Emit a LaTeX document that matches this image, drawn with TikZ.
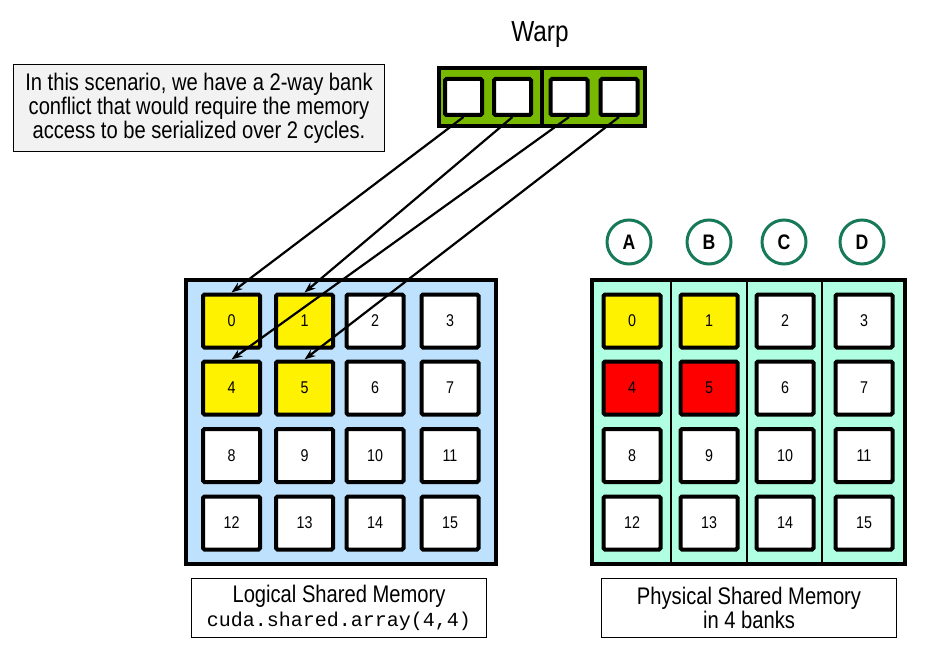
\documentclass[tikz,border=0pt]{standalone}
\usepackage{fontspec}
\setmainfont{Liberation Sans}[FakeStretch=0.84]
\setmonofont{Liberation Mono}
\usetikzlibrary{arrows.meta}

\definecolor{warpgreen}{RGB}{118,185,0}
\definecolor{logicblue}{RGB}{190,225,254}
\definecolor{bankmint}{RGB}{176,255,226}
\definecolor{bankring}{RGB}{22,122,88}
\definecolor{notegray}{RGB}{242,242,242}

\begin{document}
\begin{tikzpicture}[x=1pt, y=-1pt,
		cell/.style={draw, line width=4pt, rounded corners=1.5pt, minimum width=57pt, minimum height=53pt, fill=white, inner sep=0pt, font=\fontsize{17}{17}\selectfont},
		lane/.style={draw, line width=4pt, rounded corners=1.5pt, minimum width=37pt, minimum height=36pt, fill=white, inner sep=0pt},
		bank/.style={draw=bankring, line width=3pt, circle, minimum size=44pt, fill=white, inner sep=0pt, font=\bfseries\fontsize{21}{21}\selectfont},
		membox/.style={draw, line width=1pt, minimum width=295pt, minimum height=59pt, align=center, font=\fontsize{24}{24}\selectfont},
		access/.style={line width=2.2pt, -{Stealth[length=11pt, width=8pt]}}]
			\useasboundingbox (0, 0) rectangle (944, 655);

			% warp
			\draw (540, 35) 	node[font=\fontsize{29}{29}\selectfont] 	(warplabel) 	{Warp};
			\draw (542, 97) 	node[draw, line width=3.5pt, fill=warpgreen, minimum width=206pt, minimum height=58pt] 	(warp) 	{};
			\draw[line width=3.5pt] (warp.north) -- (warp.south);
			\draw (463.5, 97) 	node[lane] 	(w1) 	{};
			\draw (512.5, 97) 	node[lane] 	(w2) 	{};
			\draw (569, 97) 	node[lane] 	(w3) 	{};
			\draw (619, 97) 	node[lane] 	(w4) 	{};

			\draw (199, 108) 	node[draw, line width=1pt, fill=notegray, minimum width=371pt, minimum height=87pt, align=center, font=\fontsize{24}{24}\selectfont] 	(note) 	{In this scenario, we have a 2-way bank\\conflict that would require the memory\\access to be serialized over 2 cycles.};

			% logical shared memory
			\draw (341, 422) 	node[draw, line width=4pt, fill=logicblue, minimum width=310pt, minimum height=284pt] 	(logical) 	{};
			\draw (231.5, 321) 	node[cell, fill=yellow] 	(l0) 	{0};
			\draw (304.5, 321) 	node[cell, fill=yellow] 	(l1) 	{1};
			\draw (375, 321) 	node[cell] 	(l2) 	{2};
			\draw (450, 321) 	node[cell] 	(l3) 	{3};
			\draw (231.5, 388) 	node[cell, fill=yellow] 	(l4) 	{4};
			\draw (304.5, 388) 	node[cell, fill=yellow] 	(l5) 	{5};
			\draw (375, 388) 	node[cell] 	(l6) 	{6};
			\draw (450, 388) 	node[cell] 	(l7) 	{7};
			\draw (231.5, 455.5) 	node[cell] 	(l8) 	{8};
			\draw (304.5, 455.5) 	node[cell] 	(l9) 	{9};
			\draw (375, 455.5) 	node[cell] 	(l10) 	{10};
			\draw (450, 455.5) 	node[cell] 	(l11) 	{11};
			\draw (231.5, 523) 	node[cell] 	(l12) 	{12};
			\draw (304.5, 523) 	node[cell] 	(l13) 	{13};
			\draw (375, 523) 	node[cell] 	(l14) 	{14};
			\draw (450, 523) 	node[cell] 	(l15) 	{15};
			\draw (339, 608) 	node[membox] 	(logicaltag) 	{Logical Shared Memory\\{\ttfamily\fontsize{20}{24}\selectfont cuda.shared.array(4,4)}};

			% physical shared memory, 4 banks
			\draw (629, 242) 	node[bank] 	(bankA) 	{A};
			\draw (709, 242) 	node[bank] 	(bankB) 	{B};
			\draw (784, 242) 	node[bank] 	(bankC) 	{C};
			\draw (862, 242) 	node[bank] 	(bankD) 	{D};
			\draw (748.5, 422) 	node[draw, line width=4pt, fill=bankmint, minimum width=313pt, minimum height=284pt] 	(physical) 	{};
			\draw[line width=1.5pt] (671, 280) -- (671, 566);
			\draw[line width=1.5pt] (747, 280) -- (747, 566);
			\draw[line width=1.5pt] (822, 280) -- (822, 566);
			\draw (632, 321) 	node[cell, fill=yellow] 	(p0) 	{0};
			\draw (709, 321) 	node[cell, fill=yellow] 	(p1) 	{1};
			\draw (785, 321) 	node[cell] 	(p2) 	{2};
			\draw (864, 321) 	node[cell] 	(p3) 	{3};
			\draw (632, 388) 	node[cell, fill=red] 	(p4) 	{4};
			\draw (709, 388) 	node[cell, fill=red] 	(p5) 	{5};
			\draw (785, 388) 	node[cell] 	(p6) 	{6};
			\draw (864, 388) 	node[cell] 	(p7) 	{7};
			\draw (632, 455.5) 	node[cell] 	(p8) 	{8};
			\draw (709, 455.5) 	node[cell] 	(p9) 	{9};
			\draw (785, 455.5) 	node[cell] 	(p10) 	{10};
			\draw (864, 455.5) 	node[cell] 	(p11) 	{11};
			\draw (632, 523) 	node[cell] 	(p12) 	{12};
			\draw (709, 523) 	node[cell] 	(p13) 	{13};
			\draw (785, 523) 	node[cell] 	(p14) 	{14};
			\draw (864, 523) 	node[cell] 	(p15) 	{15};
			\draw (749, 608) 	node[membox] 	(physicaltag) 	{Physical Shared Memory\\in 4 banks};

			\draw[access] (w1.south) -- (l0.north);
			\draw[access] (w2.south) -- (l1.north);
			\draw[access] (w3.south) -- (l4.north);
			\draw[access] (w4.south) -- (l5.north);
		\end{tikzpicture}
\end{document}
